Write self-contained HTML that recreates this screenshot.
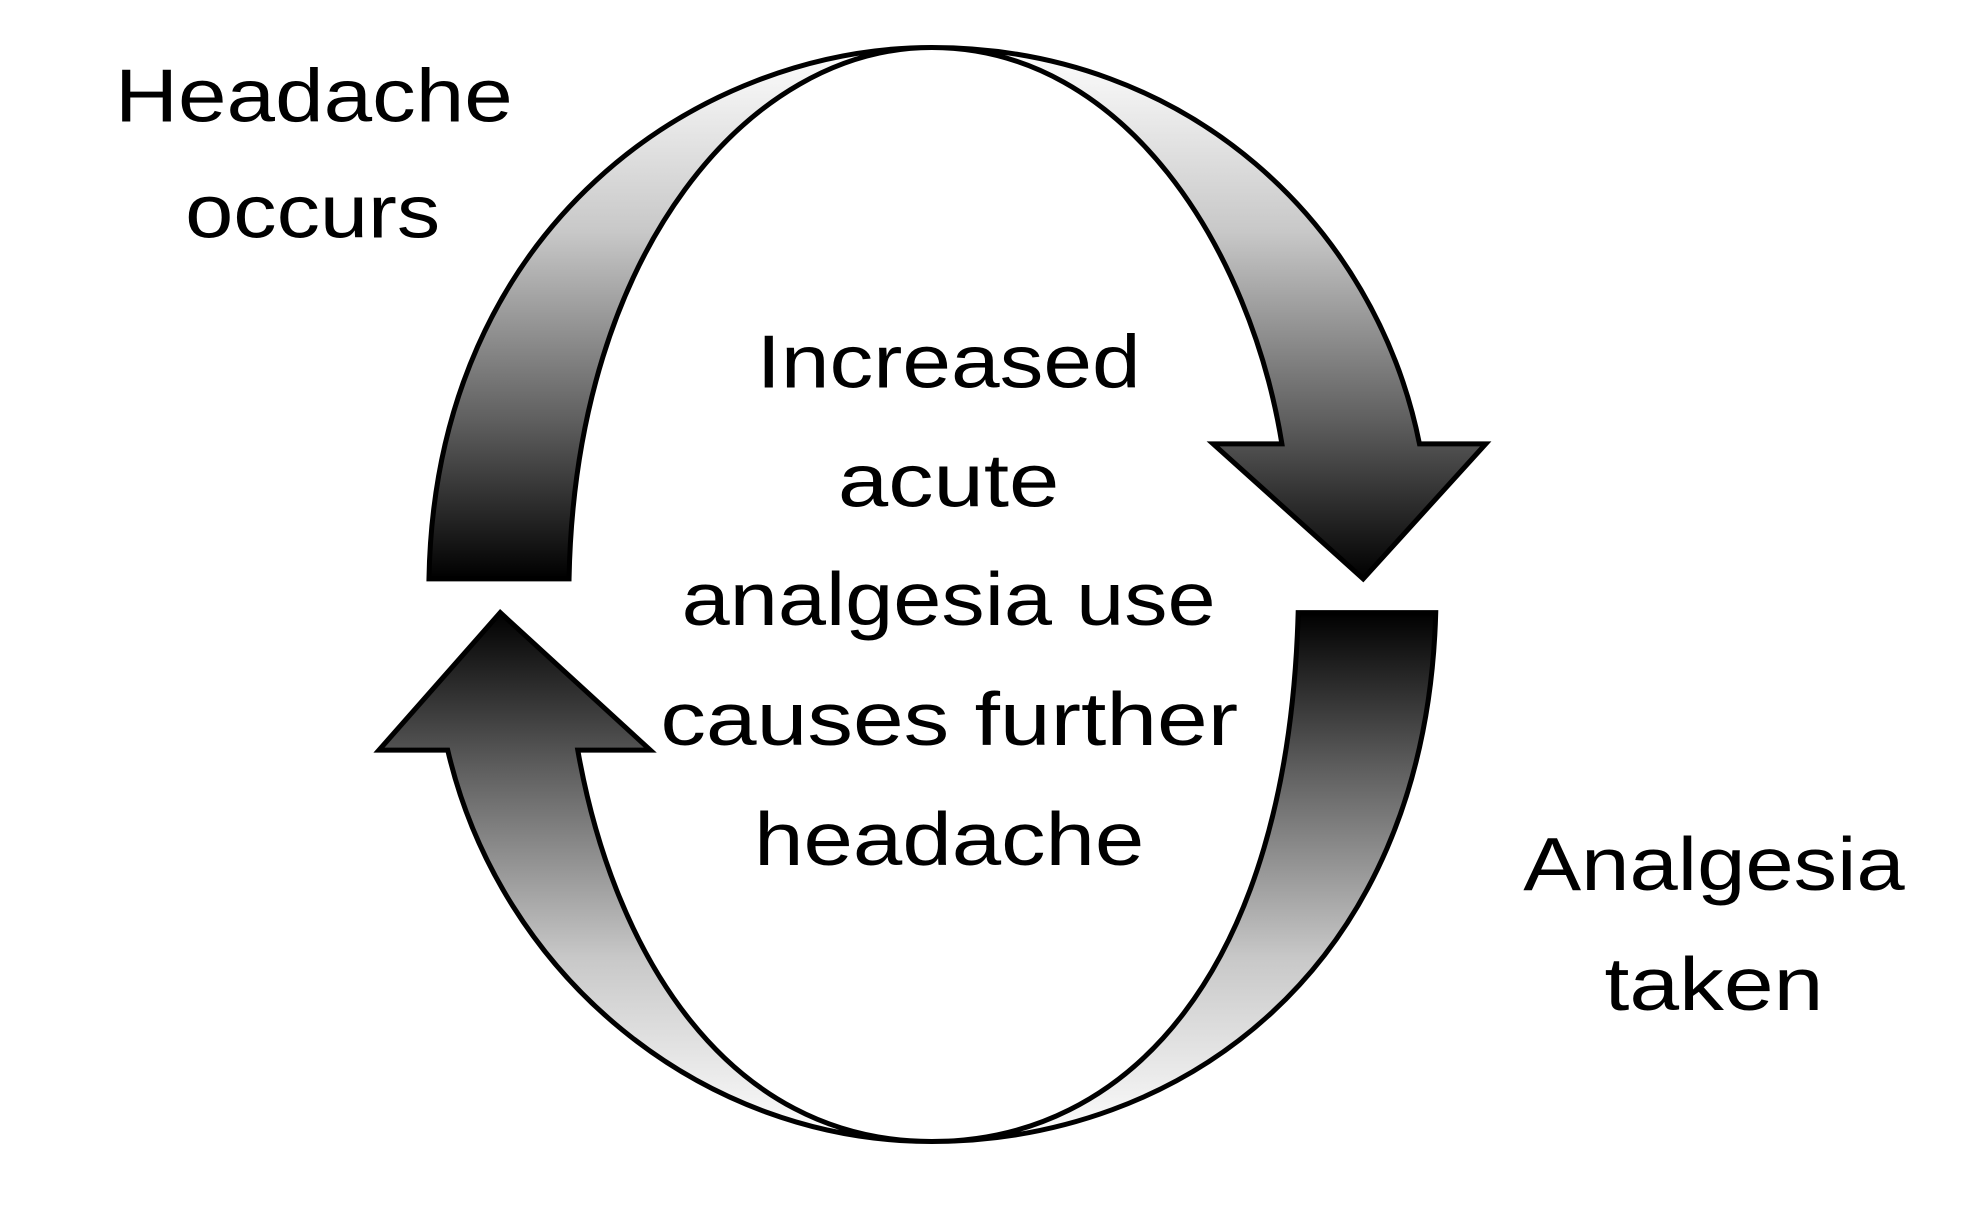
<!DOCTYPE html>
<html><head><meta charset="utf-8"><style>
html,body{margin:0;padding:0;background:#fff;}
svg{display:block;}
text{font-family:"Liberation Sans",sans-serif;font-size:60px;fill:#000;}
</style></head><body>
<svg width="1961" height="1224" viewBox="0 0 1568 979" preserveAspectRatio="none" xmlns="http://www.w3.org/2000/svg">
<defs>
<linearGradient id="gt" x1="0" y1="36" x2="0" y2="463" gradientUnits="userSpaceOnUse">
<stop offset="0" stop-color="#ffffff"/><stop offset="0.35" stop-color="#c8c8c8"/><stop offset="0.7" stop-color="#606060"/><stop offset="1" stop-color="#000"/>
</linearGradient>
<linearGradient id="gb" x1="0" y1="490" x2="0" y2="915" gradientUnits="userSpaceOnUse">
<stop offset="0" stop-color="#000"/><stop offset="0.3" stop-color="#606060"/><stop offset="0.65" stop-color="#c8c8c8"/><stop offset="1" stop-color="#ffffff"/>
</linearGradient>
</defs>
<path d="M343,463 C348,180 560,38 745,38 C950,38 1100,180 1135,355 L1188,355 L1090,463 L970,355 L1025,355 C1000,200 900,38 745,38 C600,38 460,200 455,463 Z" fill="url(#gt)" stroke="#000" stroke-width="4" stroke-linejoin="miter"/>
<path d="M1148,490 C1140,780 940,913 745,913 C580,913 490,760 462,600 L520,600 L400,490 L303,600 L358,600 C400,780 560,913 745,913 C900,913 1030,780 1038,490 Z" fill="url(#gb)" stroke="#000" stroke-width="4" stroke-linejoin="miter"/>
<text x="92" y="97" textLength="318" lengthAdjust="spacingAndGlyphs">Headache</text>
<text x="148" y="190" textLength="204" lengthAdjust="spacingAndGlyphs">occurs</text>
<text x="605" y="310" textLength="307" lengthAdjust="spacingAndGlyphs">Increased</text>
<text x="670" y="405" textLength="177" lengthAdjust="spacingAndGlyphs">acute</text>
<text x="545" y="500" textLength="427" lengthAdjust="spacingAndGlyphs">analgesia use</text>
<text x="528" y="596" textLength="462" lengthAdjust="spacingAndGlyphs">causes further</text>
<text x="603" y="692" textLength="312" lengthAdjust="spacingAndGlyphs">headache</text>
<text x="1218" y="712" textLength="305" lengthAdjust="spacingAndGlyphs">Analgesia</text>
<text x="1283" y="808" textLength="175" lengthAdjust="spacingAndGlyphs">taken</text>
</svg>
</body></html>
